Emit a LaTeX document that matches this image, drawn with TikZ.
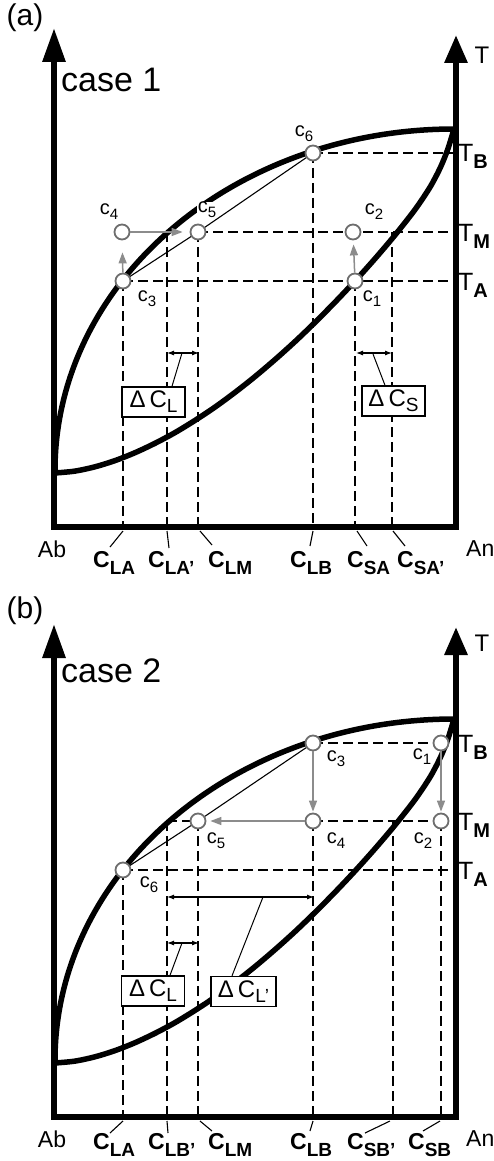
\documentclass[tikz,border=0pt]{standalone}
\usepackage{fontspec}
\setmainfont{Liberation Sans}
\usetikzlibrary{arrows.meta}
\definecolor{ptgray}{HTML}{6E6E6E}
\definecolor{argray}{HTML}{8C8C8C}
\newcommand{\fsz}[1]{\fontsize{#1}{#1}\selectfont}
\newcommand{\cl}[1]{{\fsz{20}c}\raisebox{-5pt}{\fsz{15}#1}}
\newcommand{\Tl}[1]{{\fsz{25}T}\raisebox{-7pt}{\fsz{20}\bfseries #1}}
\newcommand{\Cl}[1]{{\fsz{23}\bfseries C}\raisebox{-7pt}{\fsz{19}\bfseries #1}}
\newcommand{\DC}[1]{{\fsz{24}Δ\,C}\raisebox{-5pt}{\fsz{19}#1}}
\newcommand{\liqcurve}{\draw[curve] plot[domain=0:90, samples=90, smooth] ({454-399*cos(\x)}, {470-341*sin(\x)});}
\newcommand{\solcurve}{\draw[curve] plot[smooth] coordinates {(55,473) (75,471.1) (95,466.8) (115,460.6) (135,452.7) (155,443.3) (175,432.6) (195,420.4) (215,407.1) (235,392.4) (255,376.6) (275,359.6) (295,341.6) (315,322.4) (335,302.2) (355,281) (375,258.7) (395,235.1) (415,209.6) (430,187.2) (440,168.3) (447,151.4) (451,139.1) (454,129)};}
\begin{document}
\begin{tikzpicture}[x=1pt,y=-1pt,
  axisline/.style={line width=6pt, line join=miter, {Triangle[length=34pt,width=22pt]}-{Triangle[length=28pt,width=22pt]}},
  curve/.style={line width=5.5pt},
  dline/.style={line width=1.3pt, dash pattern=on 10pt off 5pt},
  pt/.style={circle, draw=ptgray, fill=white, line width=1.8pt, minimum size=15pt, inner sep=0pt},
  garrow/.style={draw=argray, line width=1.5pt, -{Triangle[length=11pt,width=8pt]}},
  tie/.style={line width=1.1pt},
  lead/.style={line width=1pt},
  dim/.style={line width=1.1pt, {Latex[length=7pt,width=5pt]}-{Latex[length=7pt,width=5pt]}},
  dbox/.style={draw, line width=1.4pt, fill=white, minimum width=63pt, minimum height=30pt, inner sep=0pt},
  clab/.style={fill=white, inner sep=0.5pt},
  tlab/.style={inner sep=0pt, anchor=base west},
  tick/.style={line width=1.1pt}]
\useasboundingbox (0,0) rectangle (493,1161);

% ================= panel (a) =================
\coordinate (A1) at (355,281);
\coordinate (A2) at (353,232);
\coordinate (A3) at (123,281);
\coordinate (A4) at (122,232);
\coordinate (A5) at (198,232);
\coordinate (A6) at (313,153);
\coordinate (ALA) at (167,232);
\coordinate (ASA) at (392,232);
\coordinate (Abot) at (0,527);
\coordinate (Aax) at (456,0);
% dashed
\draw[dline] (A6) -- (A6 -| Aax);
\draw[dline] (A5) -- (A5 -| Aax);
\draw[dline] (A3) -- (A3 -| Aax);
\draw[dline] (A3) -- (A3 |- Abot);
\draw[dline] (ALA) -- (ALA |- Abot);
\draw[dline] (A5) -- (A5 |- Abot);
\draw[dline] (A6) -- (A6 |- Abot);
\draw[dline] (A1) -- (A1 |- Abot);
\draw[dline] (ASA) -- (ASA |- Abot);
% curves
\liqcurve
\solcurve
% axes
\draw[axisline] (54,28) -- (54,527) -- (456,527) -- (456,35);
% points
\node[pt] (a1) at (A1) {};
\node[pt] (a2) at (A2) {};
\node[pt] (a3) at (A3) {};
\node[pt] (a4) at (A4) {};
\node[pt] (a5) at (A5) {};
\node[pt] (a6) at (A6) {};
\draw[tie] (a3) -- (a5);
\draw[tie] (a5) -- (a6);
\draw[garrow, shorten >=12pt] (a3) -- (a4);
\draw[garrow, shorten >=7pt] (a4) -- (a5);
\draw[garrow, shorten >=4pt] (a1) -- (a2);
% point labels
\node[clab] (la6) at (304,134) {\cl{6}};
\node[clab] (la5) at (207,210) {\cl{5}};
\node[clab] (la4) at (109,212) {\cl{4}};
\node[clab] (la2) at (374,212) {\cl{2}};
\node[clab] (la3) at (147,299) {\cl{3}};
\node[clab] (la1) at (372,299) {\cl{1}};
% texts
\node[inner sep=0pt] (ta) at (25,18) {\fsz{30}(a)};
\node[inner sep=0pt, anchor=base west] (case1) at (61,92) {\fsz{34}case 1};
\node[inner sep=0pt] (aT) at (482,55) {\fsz{24}T};
\node[tlab] (aTB) at (458,162) {\Tl{B}};
\node[tlab] (aTM) at (458,241) {\Tl{M}};
\node[tlab] (aTA) at (458,290) {\Tl{A}};
\node[inner sep=0pt] (aAb) at (52,549) {\fsz{23}Ab};
\node[inner sep=0pt, anchor=west] (aAn) at (466,549) {\fsz{23}An};
% bottom labels
\node[tlab] (aCLA) at (93,567) {\Cl{LA}};
\node[tlab] (aCLAp) at (148,567) {\Cl{LA'}};
\node[tlab] (aCLM) at (208,567) {\Cl{LM}};
\node[tlab] (aCLB) at (290,567) {\Cl{LB}};
\node[tlab] (aCSA) at (347,567) {\Cl{SA}};
\node[tlab] (aCSAp) at (397,567) {\Cl{SA'}};
\coordinate (ak1) at (123,531); \coordinate (ak1e) at (110,547);
\coordinate (ak2) at (167,531); \coordinate (ak2e) at (169,548);
\coordinate (ak3) at (200,531); \coordinate (ak3e) at (212,545);
\coordinate (ak4) at (313,531); \coordinate (ak4e) at (310,546);
\coordinate (ak5) at (357,531); \coordinate (ak5e) at (367,546);
\coordinate (ak6) at (393,531); \coordinate (ak6e) at (405,546);
\foreach \i in {1,...,6} {\draw[tick] (ak\i) -- (ak\i e);}
% delta brackets
\coordinate (aLl) at (167,353); \coordinate (aLr) at (199,353); \coordinate (aLm) at (182,353);
\coordinate (aSl) at (356,353); \coordinate (aSr) at (392,353); \coordinate (aSm) at (373,354);
\draw[dim] (aLl) -- (aLr);
\draw[dim] (aSl) -- (aSr);
\node[dbox] (aboxL) at (153.5,402) {\DC{L}};
\node[dbox] (aboxS) at (393.5,401) {\DC{S}};
\draw[lead] (aLm) -- ([xshift=18.5pt]aboxL.north);
\draw[lead] (aSm) -- ([xshift=-8.5pt]aboxS.north);

% ================= panel (b) =================
\begin{scope}[shift={(0,590)}]
\coordinate (B1) at (441,153);
\coordinate (B2) at (441,231);
\coordinate (B3) at (313,153);
\coordinate (B4) at (313,231);
\coordinate (B5) at (198,231);
\coordinate (B6) at (123,280);
\coordinate (BLB) at (167,231);
\coordinate (BSB) at (393,231);
\coordinate (Bbot) at (0,527);
\coordinate (Bax) at (456,0);
\draw[dline] (B3) -- (B1);
\draw[dline] (BLB) -- (B5);
\draw[dline] (B4) -- (B2);
\draw[dline] (B6) -- (B6 -| Bax);
\draw[dline] (B6) -- (B6 |- Bbot);
\draw[dline] (BLB) -- (BLB |- Bbot);
\draw[dline] (B5) -- (B5 |- Bbot);
\draw[dline] (B4) -- (B4 |- Bbot);
\draw[dline] (BSB) -- (BSB |- Bbot);
\draw[dline] (B2) -- (B2 |- Bbot);
\liqcurve
\solcurve
\draw[axisline] (54,34) -- (54,527) -- (456,527) -- (456,37);
\node[pt] (b1) at (B1) {};
\node[pt] (b2) at (B2) {};
\node[pt] (b3) at (B3) {};
\node[pt] (b4) at (B4) {};
\node[pt] (b5) at (B5) {};
\node[pt] (b6) at (B6) {};
\draw[tie] (b6) -- (b5);
\draw[tie] (b5) -- (b3);
\draw[garrow, shorten >=1pt] (b3) -- (b4);
\draw[garrow, shorten >=1pt] (b1) -- (b2);
\draw[garrow, shorten >=4pt] (b4) -- (b5);
\node[clab] (lb3) at (336,169) {\cl{3}};
\node[clab] (lb1) at (422,167) {\cl{1}};
\node[clab] (lb5) at (216,251) {\cl{5}};
\node[clab] (lb4) at (336,251) {\cl{4}};
\node[clab] (lb2) at (423,251) {\cl{2}};
\node[clab] (lb6) at (149,295) {\cl{6}};
\node[inner sep=0pt] (tb) at (25,21) {\fsz{30}(b)};
\node[inner sep=0pt, anchor=base west] (case2) at (61,92) {\fsz{34}case 2};
\node[inner sep=0pt] (bT) at (482,53) {\fsz{24}T};
\node[tlab] (bTB) at (458,162) {\Tl{B}};
\node[tlab] (bTM) at (458,240) {\Tl{M}};
\node[tlab] (bTA) at (458,289) {\Tl{A}};
\node[inner sep=0pt] (bAb) at (52,549) {\fsz{23}Ab};
\node[inner sep=0pt, anchor=west] (bAn) at (466,549) {\fsz{23}An};
\node[tlab] (bCLA) at (93,559) {\Cl{LA}};
\node[tlab] (bCLBp) at (148,559) {\Cl{LB'}};
\node[tlab] (bCLM) at (208,559) {\Cl{LM}};
\node[tlab] (bCLB) at (290,559) {\Cl{LB}};
\node[tlab] (bCSBp) at (347,559) {\Cl{SB'}};
\node[tlab] (bCSB) at (408,559) {\Cl{SB}};
\coordinate (bk1) at (123,531); \coordinate (bk1e) at (110,543);
\coordinate (bk2) at (167,531); \coordinate (bk2e) at (168,543);
\coordinate (bk3) at (200,531); \coordinate (bk3e) at (212,541);
\coordinate (bk4) at (313,531); \coordinate (bk4e) at (310,541);
\coordinate (bk5) at (390,531); \coordinate (bk5e) at (365,543);
\coordinate (bk6) at (440,531); \coordinate (bk6e) at (423,541);
\foreach \i in {1,...,6} {\draw[tick] (bk\i) -- (bk\i e);}
\coordinate (bPl) at (167,307); \coordinate (bPr) at (314,307); \coordinate (bPm) at (263,307);
\coordinate (bLl) at (167,353); \coordinate (bLr) at (199,353); \coordinate (bLm) at (182,353);
\draw[dim] (bPl) -- (bPr);
\draw[dim] (bLl) -- (bLr);
\node[dbox] (bboxL) at (153,401) {\DC{L}};
\node[dbox, minimum width=65pt] (bboxP) at (243.5,401.5) {\DC{L'}};
\draw[lead] (bLm) -- ([xshift=17pt]bboxL.north);
\draw[lead] (bPm) -- ([xshift=-11.5pt]bboxP.north);
\end{scope}
\end{tikzpicture}
\end{document}
